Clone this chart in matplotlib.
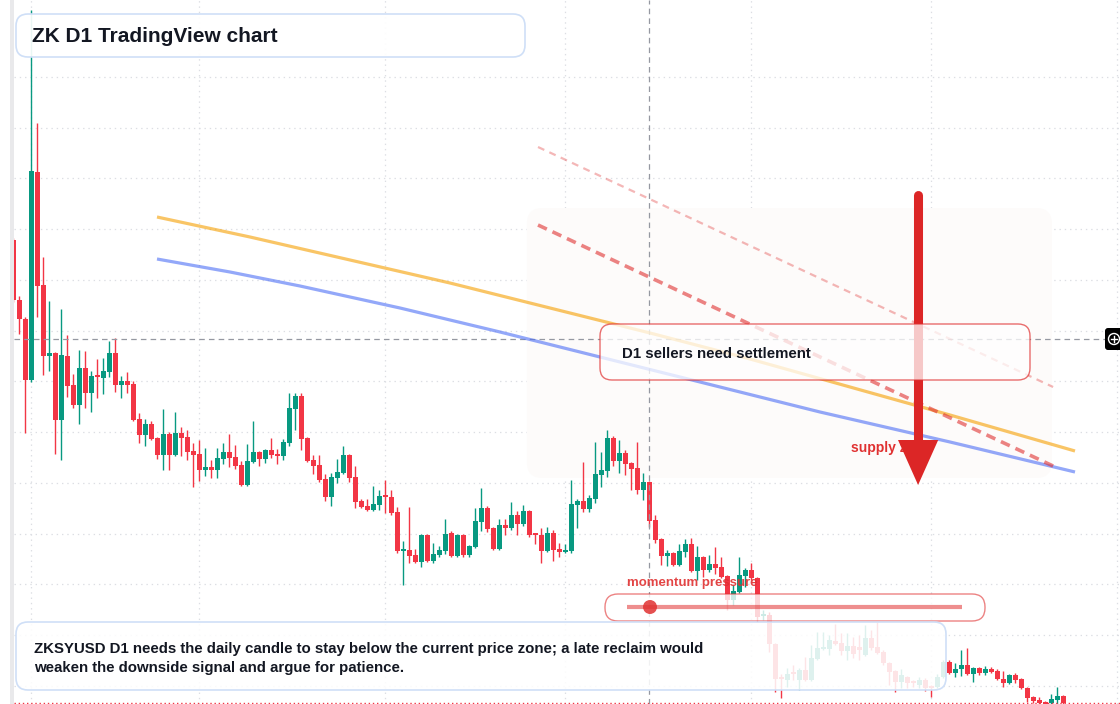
import numpy as np
import pandas as pd
import matplotlib
matplotlib.use("Agg")
import matplotlib.pyplot as plt
from matplotlib.patches import FancyBboxPatch, Rectangle, Polygon, Circle
from matplotlib.transforms import Affine2D

plt.rcParams['font.family'] = ['Liberation Sans', 'DejaVu Sans']
plt.rcParams['lines.scale_dashes'] = False

# daily ZK candles (price units), first bar 2025-01-29
start_date = "2025-01-29"
opens = [
    .464, .404, .385, .324, .532, .419, .348, .351, .284, .348,
    .319, .299, .336, .311, .328, .326, .332, .351, .319, .323,
    .320, .285, .269, .280, .266, .249, .270, .249, .271, .267,
    .253, .250, .234, .237, .234, .245, .252, .247, .239, .219,
    .242, .252, .245, .254, .250, .248, .261, .295, .308, .266,
    .244, .239, .225, .207, .226, .231, .249, .227, .203, .198,
    .194, .199, .208, .207, .192, .153, .154, .149, .142, .169,
    .143, .149, .153, .171, .148, .169, .149, .157, .182, .196,
    .176, .155, .179, .176, .189, .180, .193, .170, .169, .153,
    .171, .155, .152, .153, .199, .203, .195, .205, .229, .233,
    .266, .243, .251, .241, .236, .214, .222, .184, .165, .148,
    .151, .139, .152, .160, .133, .147, .134, .140, .137, .128,
    .104, .112, .128, .134, .126, .088, .089, .060, .026, .024,
    .031, .024, .034, .024, .045, .055, .055, .063, .061, .053,
    .058, .057, .049, .066, .057, .052, .041, .033, .022, .027,
    .022, .019, .024, .018, .017, .027, .042, .031, .035, .039,
    .030, .036, .031, .035, .033, .025, .021, .029, .025, .016,
    .007, .004, .002, .001, .004, .008]
highs = [
    .466, .408, .387, .694, .581, .447, .403, .352, .395, .369,
    .330, .354, .353, .333, .345, .346, .363, .366, .328, .332,
    .323, .291, .285, .283, .267, .295, .272, .292, .277, .274,
    .261, .264, .256, .244, .256, .261, .270, .259, .243, .260,
    .283, .253, .255, .266, .255, .265, .311, .311, .311, .267,
    .249, .249, .230, .231, .245, .258, .250, .238, .205, .205,
    .218, .214, .224, .214, .197, .163, .197, .155, .170, .170,
    .161, .158, .185, .173, .170, .170, .159, .196, .216, .198,
    .177, .185, .185, .202, .193, .199, .194, .171, .176, .177,
    .174, .161, .160, .224, .205, .242, .209, .262, .252, .274,
    .268, .264, .254, .242, .262, .231, .223, .189, .166, .154,
    .152, .160, .165, .166, .158, .148, .149, .157, .147, .129,
    .119, .147, .136, .141, .127, .094, .092, .061, .030, .036,
    .039, .036, .047, .059, .072, .072, .069, .080, .071, .071,
    .067, .069, .079, .074, .082, .054, .042, .034, .035, .028,
    .024, .027, .026, .019, .030, .044, .044, .041, .054, .056,
    .037, .037, .038, .037, .035, .033, .030, .031, .026, .017,
    .008, .007, .003, .010, .017, .009]
lows = [
    .402, .370, .271, .322, .387, .329, .333, .250, .244, .307,
    .296, .280, .296, .292, .306, .310, .327, .312, .306, .311,
    .283, .261, .258, .264, .245, .234, .234, .248, .248, .244,
    .217, .223, .228, .226, .226, .240, .237, .235, .218, .218,
    .241, .238, .241, .246, .240, .244, .258, .274, .254, .242,
    .230, .222, .203, .198, .221, .230, .222, .196, .196, .193,
    .193, .194, .191, .189, .151, .119, .141, .141, .137, .142,
    .141, .147, .150, .147, .147, .147, .147, .156, .173, .172,
    .154, .154, .169, .174, .169, .178, .167, .160, .141, .152,
    .143, .147, .151, .151, .176, .192, .192, .201, .217, .227,
    .238, .231, .229, .214, .210, .204, .177, .161, .139, .138,
    .138, .138, .147, .132, .124, .127, .132, .130, .126, .094,
    .099, .111, .117, .124, .082, .084, .052, .012, .006, .017,
    .024, .014, .023, .023, .044, .054, .049, .059, .049, .044,
    .046, .044, .048, .054, .050, .039, .019, .012, .016, .016,
    .017, .016, .013, .007, .016, .026, .030, .027, .028, .029,
    .022, .029, .029, .031, .024, .017, .020, .021, .015, .002,
    .001, .000, .000, .000, .000, .000]
closes = [
    .404, .385, .324, .533, .418, .348, .351, .284, .349, .318,
    .299, .336, .311, .328, .327, .333, .351, .319, .323, .319,
    .284, .269, .280, .265, .249, .270, .249, .271, .266, .252,
    .249, .234, .237, .234, .246, .252, .246, .238, .219, .243,
    .252, .245, .254, .249, .248, .262, .296, .308, .265, .243,
    .238, .224, .207, .227, .232, .249, .226, .202, .197, .194,
    .200, .208, .207, .191, .153, .154, .148, .142, .169, .143,
    .150, .154, .170, .148, .169, .149, .158, .183, .196, .175,
    .155, .179, .176, .189, .180, .193, .169, .169, .153, .171,
    .154, .152, .154, .200, .203, .195, .206, .230, .234, .266,
    .243, .251, .240, .235, .214, .222, .183, .164, .148, .151,
    .139, .153, .160, .133, .147, .134, .140, .136, .127, .104,
    .113, .129, .134, .126, .087, .089, .060, .025, .025, .030,
    .030, .034, .024, .046, .056, .056, .064, .060, .053, .058,
    .050, .054, .066, .056, .051, .041, .032, .022, .029, .021,
    .021, .024, .016, .016, .027, .042, .031, .035, .039, .030,
    .036, .031, .035, .032, .025, .021, .029, .024, .016, .006,
    .003, .001, .000, .005, .008, .001]

# overlay curves (bar index, price)
ma_fast_x = [23.95, 39.45, 56.12, 72.78, 89.45, 106.12, 122.78, 139.45, 156.12, 176.95]
ma_fast_y = [.487, .467, .444, .421, .396, .371, .345, .317, .289, .253]
ma_slow_x = [23.95, 36.12, 47.78, 64.45, 81.12, 97.78, 114.45, 134.45, 156.12, 176.95]
ma_slow_y = [.445, .432, .418, .396, .372, .347, .322, .292, .262, .232]
trend_x = [87.45, 173.3]
trend_main_y = [.479, .238]
trend_upper_y = [.557, .317]

supply_x = (85.6, 173.1)
supply_y = (.226, .496)
arrow_i, arrow_top, arrow_tip = 150.8, .509, .219
cross_i, cross_p = 106, .365
grid_top, grid_step = .627, .05075

GREEN, RED = '#089981', '#f23645'
DARK = '#131722'
W, H = 1120, 704

o = np.array(opens); h = np.array(highs); l = np.array(lows); c = np.array(closes)
n = len(o)
x = np.arange(n)
dates = pd.date_range(start_date, periods=n + 12, freq='D')
month_idx = [k for k, d in enumerate(dates) if d.day == 1]

fig = plt.figure(figsize=(W / 100, H / 100), dpi=100)
ax = fig.add_axes([14 / W, 0, 1 - 14 / W, 1])
ax.set_xlim(0.117, 184.45)
ax.set_ylim(0, 0.704)
for s in ax.spines.values():
    s.set_visible(False)
ax.set_xticks([]); ax.set_yticks([])

# grid
for k in month_idx:
    ax.axvline(k, color='#dcdee3', lw=0.9, ls=(0, (1.0, 2.8)), zorder=0)
for gy in np.arange(grid_top, 0, -grid_step):
    ax.axhline(gy, color='#dcdee3', lw=0.9, ls=(0, (1.0, 2.8)), zorder=0)

# left edge strip
fig.add_artist(Rectangle((10 / W, 0), 4 / W, 1, transform=fig.transFigure,
                         color='#e9e9eb', lw=0, zorder=0))

# supply zone
ax.add_patch(FancyBboxPatch((supply_x[0], supply_y[0]), supply_x[1] - supply_x[0],
                            supply_y[1] - supply_y[0],
                            boxstyle='round,pad=0,rounding_size=2.6', mutation_aspect=0.006,
                            fc='#fdfbfa', ec='none', zorder=1))

# candles
col = np.where(c >= o, GREEN, RED)
ax.vlines(x, l, h, colors=col, lw=1.0, zorder=2)
body = np.maximum(np.abs(c - o), 0.0016)
ax.bar(x, body, bottom=np.minimum(o, c), width=0.78, color=col, lw=0, zorder=2.1)

# last price line
ax.axhline(c[-1], color=RED, lw=1.0, ls=(0, (1, 2)), zorder=2.2)

# crosshair
ax.axhline(cross_p, xmax=(1105 - 14) / (W - 14), color='#9598a1', lw=0.9,
           ls=(0, (4, 3)), zorder=2.5)
ax.axvline(cross_i, color='#9598a1', lw=0.9, ls=(0, (4, 3)), zorder=2.5)

# moving average curves
ax.plot(ma_fast_x, ma_fast_y, color='#f59f00', alpha=0.6, lw=2.3,
        solid_capstyle='butt', solid_joinstyle='round', zorder=3)
ax.plot(ma_slow_x, ma_slow_y, color='#4c6ef5', alpha=0.6, lw=2.3,
        solid_capstyle='butt', solid_joinstyle='round', zorder=3)

# trend lines
ax.plot(trend_x, trend_main_y, color='#e03131', alpha=0.6, lw=2.6,
        ls=(0, (7, 4.5)), zorder=3.2)
ax.plot(trend_x, trend_upper_y, color='#e03131', alpha=0.35, lw=1.6,
        ls=(0, (5, 4)), zorder=3.2)

# pixel transform for overlays (origin top-left)
pix = Affine2D().scale(1 / W, -1 / H).translate(0, 1) + fig.transFigure

ax.text(851, 448, 'supply zone', transform=pix, color='#e03131', fontsize=10,
        fontweight='bold', va='center', ha='left', zorder=3.5)

# down arrow
ax.plot([arrow_i, arrow_i], [arrow_top, arrow_tip + 0.045], color='#dc2626', lw=6.5,
        solid_capstyle='round', zorder=4)
ax.add_patch(Polygon([(arrow_i - 3.35, arrow_tip + 0.045), (arrow_i + 3.35, arrow_tip + 0.045),
                      (arrow_i, arrow_tip)], closed=True, color='#dc2626', lw=0, zorder=4))


def box(x0, y0, x1, y1, r, fc, ec, alpha, lw, z):
    p = FancyBboxPatch((x0, y0), x1 - x0, y1 - y0,
                       boxstyle='round,pad=0,rounding_size=%g' % r,
                       transform=pix, fc=fc, ec=ec, lw=lw, zorder=z, clip_on=False)
    p.set_facecolor(matplotlib.colors.to_rgba(fc, alpha))
    ax.add_patch(p)


# seller note
box(600, 324, 1030, 380, 12, 'white', (0.88, 0.19, 0.19, 0.7), 0.75, 1.0, 5)
ax.text(622, 354, 'D1 sellers need settlement', transform=pix, color=DARK,
        fontsize=10.8, fontweight='bold', va='center', ha='left', zorder=5.1)

# momentum widget
box(605, 594, 985, 621, 13, 'white', (0.88, 0.19, 0.19, 0.6), 0.8, 1.0, 5)
ax.plot([627, 962], [607, 607], transform=pix, color='#e03131', alpha=0.55, lw=3,
        solid_capstyle='butt', zorder=5.1, clip_on=False)
ax.add_patch(Circle((650, 607), 7, transform=pix, color='#e03131', alpha=0.85,
                    lw=0, zorder=5.2, clip_on=False))
ax.text(627, 583, 'momentum pressure', transform=pix, color='#e03131', alpha=0.9,
        fontsize=9.5, fontweight='bold', va='center', ha='left', zorder=5.2)

# description panel
box(16, 622, 946, 690, 12, 'white', '#cfdff7', 0.87, 1.2, 6)
ax.text(34, 649, 'ZKSYUSD D1 needs the daily candle to stay below the current price zone; '
        'a late reclaim would', transform=pix, color=DARK, fontsize=10.8,
        fontweight='bold', va='center', ha='left', zorder=6.1)
ax.text(34, 668, 'weaken the downside signal and argue for patience.', transform=pix,
        color=DARK, fontsize=10.8, fontweight='bold', va='center', ha='left', zorder=6.1)

# title panel
box(16, 14, 525, 57, 12, 'white', '#cfdff7', 0.92, 1.2, 6)
ax.text(32, 37, 'ZK D1 TradingView chart', transform=pix, color=DARK, fontsize=15,
        fontweight='bold', va='center', ha='left', zorder=6.1)

# crosshair price button
box(1105, 328, 1130, 350, 3, 'black', 'none', 1.0, 0, 7)
ax.add_patch(Circle((1114, 339), 5.5, transform=pix, fc='none', ec='white', lw=1.0,
                    zorder=7.1, clip_on=False))
ax.plot([1111, 1117], [339, 339], transform=pix, color='white', lw=1.0, zorder=7.2, clip_on=False)
ax.plot([1114, 1114], [336, 342], transform=pix, color='white', lw=1.0, zorder=7.2, clip_on=False)

fig.savefig('out.png', dpi=100)
